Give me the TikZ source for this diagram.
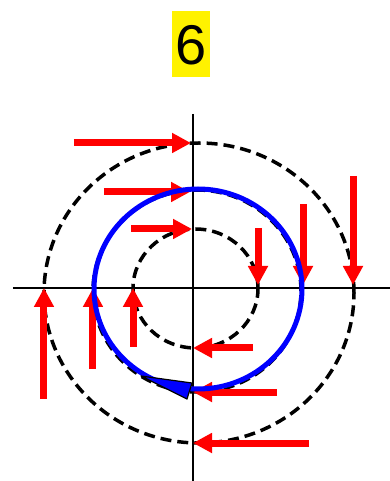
\documentclass[tikz,border=0pt]{standalone}
\usepackage{fontspec}
\setmainfont{Liberation Sans}
\usetikzlibrary{arrows.meta}
\tikzset{
  flow/.style={red, line width=7pt, -{Triangle[length=19pt, width=19pt]}},
  orbit/.style={black, line width=3.5pt, dash pattern=on 11pt off 6pt},
}
\begin{document}
\begin{tikzpicture}[x=1pt, y=1pt, line join=round]
	\useasboundingbox (-193,-193) rectangle (197,288);
	% title
	\node[fill=yellow, inner xsep=3pt, inner ysep=0pt, text height=54pt, text depth=12pt, font=\fontsize{56}{60}\selectfont, anchor=base] (title) at (-2,223) {6};
	
	% axes
	\draw[line width=2pt] (-180,0) -- (197,0);
	\draw[line width=2pt] (0,174) -- (0,-193);
	
	% dashed orbits
	\draw[orbit] (2.5,-0.5) ellipse [x radius=62.5, y radius=59.5];
	\draw[orbit] (4,-3) ellipse [x radius=104, y radius=101];
	\draw[orbit] (6,-5) ellipse [x radius=155, y radius=150];
	
	% velocity arrows
	\foreach \a/\b/\y in {-119/-2/145, -89/-3/96, -62/-1/59}
		\draw[flow] (\a,\y) -- (\b,\y);
	\foreach \x/\a in {65/60, 110/84, 160/112}
		\draw[flow] (\x,\a) -- (\x,3);
	\foreach \a/\y in {60/-60, 84/-104, 116/-155}
		\draw[flow] (\a,\y) -- (0,\y);
	\foreach \x/\a in {-149/-111, -100/-81, -60/-59}
		\draw[flow] (\x,\a) -- (\x,0);
	
	% trajectory
	\draw[blue, line width=5pt] (5,-1) ellipse [x radius=104, y radius=100];
	\filldraw[fill=blue, draw=black, line width=1.2pt] (-52,-88) -- (-1,-95) -- (-6,-111) -- cycle;
\end{tikzpicture}
\end{document}
